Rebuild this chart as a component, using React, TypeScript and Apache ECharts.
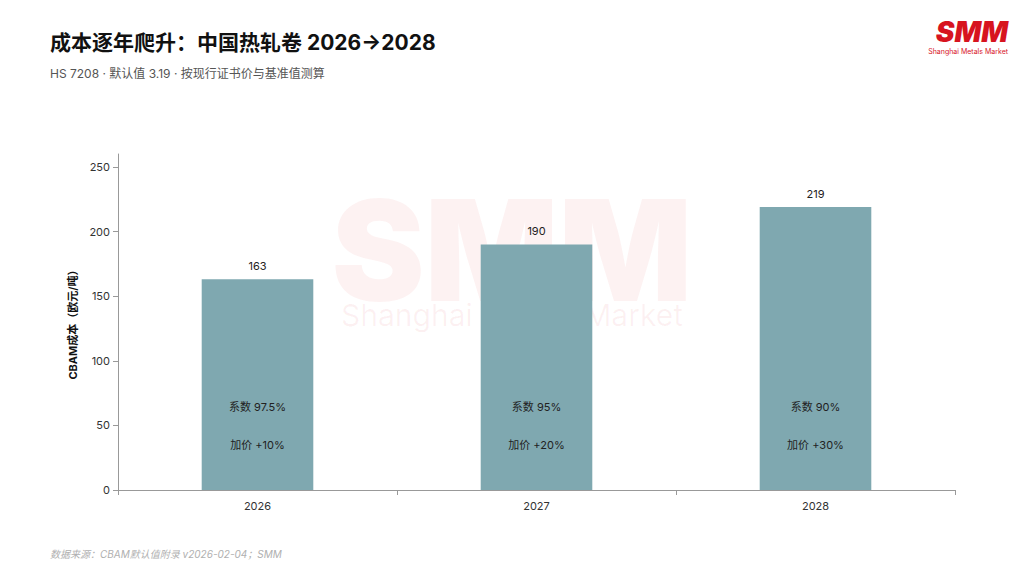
import { useEffect, useRef } from 'react';
import * as echarts from 'echarts';

const years = ['2026', '2027', '2028'];
const costs = [163, 190, 219];
const factors = ['97.5%', '95%', '90%'];
const markups = ['+10%', '+20%', '+30%'];

const FONT = 'Inter, "Noto Sans CJK SC", sans-serif';

export default function App() {
  const ref = useRef<HTMLDivElement>(null);

  useEffect(() => {
    if (!ref.current) return;
    const chart = echarts.init(ref.current, undefined, { renderer: 'svg' });
    chart.setOption({
      animation: false,
      textStyle: { fontFamily: FONT },
      graphic: [
        // watermark
        { type: 'text', left: 'center', top: 180, z: 0, style: { text: 'SMM', font: '900 140px Inter, sans-serif', fill: 'rgba(220,30,40,0.06)' } },
        { type: 'text', left: 'center', top: 300, z: 0, style: { text: 'Shanghai Metals Market', font: '30px Inter, sans-serif', fill: 'rgba(220,30,40,0.06)' } },
        // logo
        { type: 'text', right: 16, top: 18, style: { text: 'SMM', font: 'italic 900 28px Inter, sans-serif', fill: '#d7141f' } },
        { type: 'text', right: 16, top: 48, style: { text: 'Shanghai Metals Market', font: '7px Inter, sans-serif', fill: '#d7141f' } },
        // header
        { type: 'text', left: 50, top: 32, style: { text: '成本逐年爬升：中国热轧卷 2026→2028', font: `bold 21px ${FONT}`, fill: '#111' } },
        { type: 'text', left: 50, top: 67, style: { text: 'HS 7208 · 默认值 3.19 · 按现行证书价与基准值测算', font: `12px ${FONT}`, fill: '#555' } },
        { type: 'text', left: 50, top: 549, style: { text: '数据来源：CBAM默认值附录 v2026-02-04；SMM', font: `italic 10px ${FONT}`, fill: '#b0b0b0' } },
      ],
      grid: { left: 118, right: 69, top: 154, bottom: 86 },
      xAxis: {
        type: 'category',
        data: years,
        axisLine: { lineStyle: { color: '#999' } },
        axisTick: { show: true, lineStyle: { color: '#999' } },
        axisLabel: { color: '#333', fontSize: 11, margin: 10 },
      },
      yAxis: {
        type: 'value',
        min: 0,
        max: 260,
        interval: 50,
        name: 'CBAM成本（欧元/吨）',
        nameLocation: 'middle',
        nameGap: 38,
        nameTextStyle: { fontWeight: 'bold', fontSize: 11, color: '#111' },
        axisLine: { show: true, lineStyle: { color: '#999' } },
        axisTick: { show: true, lineStyle: { color: '#999' } },
        splitLine: { show: false },
        axisLabel: { color: '#333', fontSize: 11, showMaxLabel: false },
      },
      series: [
        {
          type: 'bar',
          data: costs,
          barWidth: '40%',
          itemStyle: { color: '#7fa8b0' },
          z: 2,
          label: {
            show: true,
            position: 'insideBottom',
            distance: 26,
            formatter: (p: any) => `系数 ${factors[p.dataIndex]}\n加价 ${markups[p.dataIndex]}`,
            color: '#222',
            fontSize: 11,
            lineHeight: 38,
          },
        },
        {
          type: 'bar',
          data: costs,
          barWidth: '40%',
          barGap: '-100%',
          itemStyle: { color: 'transparent' },
          z: 3,
          label: { show: true, position: 'top', distance: 8, color: '#222', fontSize: 11 },
        },
      ],
    });
    return () => chart.dispose();
  }, []);

  return <div ref={ref} style={{ position: 'fixed', left: 0, top: 0, width: 1024, height: 576, background: '#fff' }} />;
}
